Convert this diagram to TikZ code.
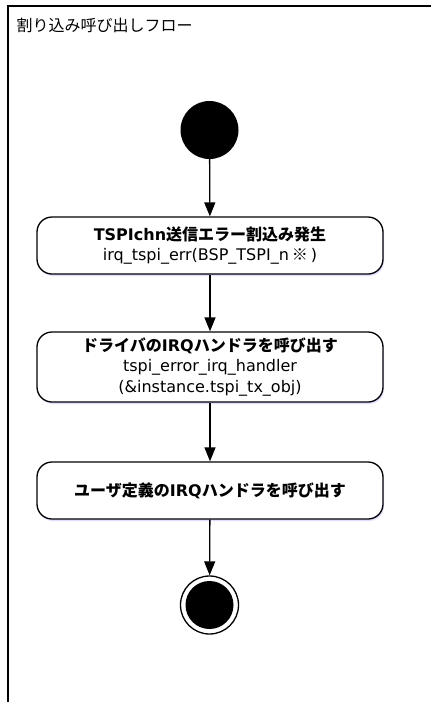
\documentclass[tikz,border=0pt]{standalone}
\usepackage{fontspec}
\setmainfont{DejaVu Sans}
\newfontfamily\jp{Noto Sans CJK JP}
\usetikzlibrary{arrows.meta,shadows}

\begin{document}
\begin{tikzpicture}[x=1pt, y=-1pt, align=center,
  font=\fontsize{16}{20.5}\selectfont,
  flowbox/.style={draw, line width=1.3pt, rounded corners=15pt, fill=white,
    minimum width=346pt, inner sep=0pt,
    drop shadow={shadow xshift=1pt, shadow yshift=-2pt, fill=blue!25!white, opacity=0.5}},
  flowarrow/.style={line width=1.3pt, -{Triangle[length=14pt, width=11pt]}}]

\useasboundingbox (0,0) rectangle (431,702);

% frame
\draw[line width=2pt] (431,6) -- (8,6) -- (8,702);
\node[anchor=west, font=\jp\fontsize{16}{19}\selectfont] (title) at (13,25) {割り込み呼び出しフロー};

\node[circle, fill=black, minimum size=58pt, inner sep=0pt] (start) at (209.5,130) {};
\node[flowbox, minimum height=57pt] (irq) at (210,245.5)
  {\textbf{TSPIchn{\jp 送信エラー割込み発生}}\\irq\_tspi\_err(BSP\_TSPI\_n\hspace{3pt}{\jp ※}\hspace{3pt})};
\node[flowbox, minimum height=70pt] (driver) at (210,367)
  {\textbf{{\jp ドライバの}IRQ{\jp ハンドラを呼び出す}}\\tspi\_error\_irq\_handler\\(\&instance.tspi\_tx\_obj)};
\node[flowbox, minimum height=57pt] (user) at (210,490.5)
  {\textbf{{\jp ユーザ定義の}IRQ{\jp ハンドラを呼び出す}}};
\node[circle, draw, line width=1.3pt, fill=white, minimum size=58pt, inner sep=0pt] (finish) at (209.5,605) {};
\node[circle, fill=black, minimum size=48pt, inner sep=0pt] (finishcore) at (finish.center) {};

\draw[flowarrow] (start) -- (irq);
\draw[flowarrow] (irq) -- (driver);
\draw[flowarrow] (driver) -- (user);
\draw[flowarrow] (user) -- (finish);

\end{tikzpicture}
\end{document}
